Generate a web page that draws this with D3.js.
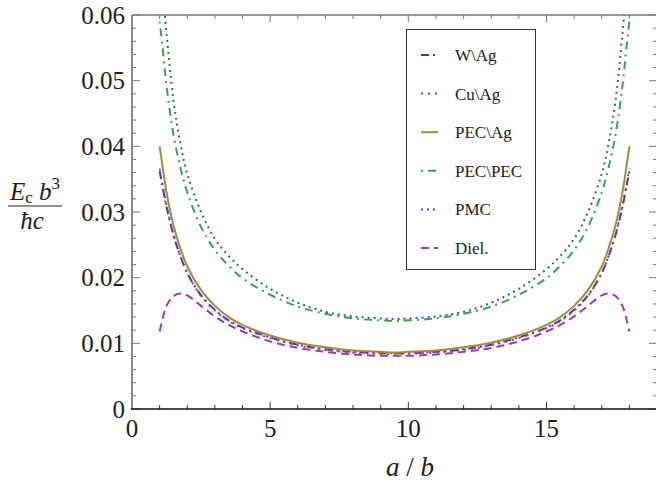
<!DOCTYPE html>
<html><head><meta charset="utf-8">
<script src="https://cdn.jsdelivr.net/npm/d3@7"></script>
<style>
html,body{margin:0;padding:0;background:#fff;}
svg{display:block;}
text{font-family:'Liberation Serif','Times New Roman',Times,'DejaVu Serif',serif;}
</style></head>
<body><svg id="c" width="656" height="485"></svg>
<script>
const FONT = "Liberation Serif, Times New Roman, Times, DejaVu Serif, serif";
const xs = [1, 1.1, 1.25, 1.5, 1.75, 2, 2.5, 3, 3.5, 4, 5, 6, 7, 8, 9, 9.5, 10, 11, 12, 13, 14, 15, 15.5, 16, 16.5, 17, 17.25, 17.5, 17.75, 17.9, 18];
const wAg   = [0.0362,0.0340,0.0308,0.0265,0.0233,0.0207,0.0173,0.0151,0.0135,0.0124,0.0109,0.0098,0.0091,0.0087,0.0085,0.0085,0.0085,0.0087,0.0091,0.0098,0.0109,0.0124,0.0135,0.0151,0.0173,0.0207,0.0233,0.0265,0.0308,0.0340,0.0362];
const cuAg  = [0.0366,0.0343,0.0310,0.0266,0.0233,0.0207,0.0172,0.0150,0.0134,0.0123,0.0108,0.0097,0.0090,0.0086,0.0084,0.0084,0.0084,0.0086,0.0090,0.0097,0.0108,0.0123,0.0134,0.0150,0.0172,0.0207,0.0233,0.0266,0.0310,0.0343,0.0366];
const pecAg = [0.0400,0.0371,0.0330,0.0280,0.0245,0.0217,0.0181,0.0157,0.0140,0.0128,0.0112,0.0101,0.0094,0.0089,0.0087,0.0086,0.0087,0.0089,0.0094,0.0101,0.0112,0.0128,0.0140,0.0157,0.0181,0.0217,0.0245,0.0280,0.0330,0.0371,0.0400];
const pecPec= [0.0590,0.0553,0.0492,0.0418,0.0368,0.0330,0.0277,0.0242,0.0218,0.0199,0.0174,0.0156,0.0145,0.0138,0.0135,0.0134,0.0135,0.0138,0.0145,0.0156,0.0174,0.0199,0.0218,0.0242,0.0277,0.0330,0.0368,0.0418,0.0492,0.0553,0.0590];
const pmc   = [0.0680,0.0640,0.0572,0.0470,0.0405,0.0358,0.0300,0.0259,0.0233,0.0213,0.0183,0.0162,0.0148,0.0141,0.0138,0.0137,0.0138,0.0141,0.0148,0.0162,0.0183,0.0213,0.0233,0.0259,0.0300,0.0358,0.0405,0.0470,0.0572,0.0640,0.0680];
const diel  = [0.0118,0.0136,0.0157,0.0172,0.0176,0.0173,0.0157,0.0141,0.0128,0.0118,0.0103,0.0093,0.0087,0.0083,0.0081,0.0081,0.0081,0.0083,0.0087,0.0093,0.0103,0.0118,0.0128,0.0141,0.0157,0.0173,0.0176,0.0172,0.0157,0.0136,0.0118];

const seriesNames = ["W\\Ag", "Cu\\Ag", "PEC\\Ag", "PEC\\PEC", "PMC", "Diel."];
const xTickVals = [0, 5, 10, 15];
const yTickVals = [0, 0.01, 0.02, 0.03, 0.04, 0.05, 0.06];
const yTickLabels = ["0", "0.01", "0.02", "0.03", "0.04", "0.05", "0.06"];

const seriesData = [wAg, cuAg, pecAg, pecPec, pmc, diel];
const styles = [
  {color:"#3c3cb0", dash:"8,4,2,4", w:2},
  {color:"#a0387a", dash:"2,5", w:2},
  {color:"#a08c3c", dash:null, w:2},
  {color:"#3ca055", dash:"2,5,8,5", w:2},
  {color:"#3c58b4", dash:"2,4", w:2},
  {color:"#a03ca0", dash:"8,5", w:2}
];

const L = 132, R = 657, T = 15, B = 409;
const svg = d3.select("#c").attr("font-family", FONT);
const x = d3.scaleLinear().domain([0, 19]).range([L, R]);
const y = d3.scaleLinear().domain([0, 0.06]).range([B, T]);

svg.append("defs").append("clipPath").attr("id","clip")
  .append("rect").attr("x", L).attr("y", T).attr("width", R-L).attr("height", B-T);

// curves
const line = d3.line().x(d => x(d[0])).y(d => y(d[1])).curve(d3.curveCatmullRom.alpha(0.5));
const g = svg.append("g").attr("clip-path","url(#clip)");
seriesData.forEach((vals, i) => {
  const pts = xs.map((xv, j) => [xv, vals[j]]);
  g.append("path").datum(pts).attr("d", line)
    .attr("fill","none").attr("stroke", styles[i].color)
    .attr("stroke-width", styles[i].w)
    .attr("stroke-dasharray", styles[i].dash);
});

// frame & ticks
const minorX = d3.range(0, 20, 1);
const minorY = d3.range(0, 0.0601, 0.002);
const fr = svg.append("g");
minorX.forEach(v => {
  const major = v % 5 === 0;
  fr.append("line").attr("x1", x(v)).attr("x2", x(v)).attr("y1", B).attr("y2", B - (major ? 7 : 4))
    .attr("stroke", "#333").attr("stroke-width", 1);
  fr.append("line").attr("x1", x(v)).attr("x2", x(v)).attr("y1", T).attr("y2", T + (major ? 7 : 4))
    .attr("stroke", "#777").attr("stroke-width", 1);
});
minorY.forEach(v => {
  const major = Math.abs(Math.round(v/0.01)*0.01 - v) < 1e-6;
  fr.append("line").attr("x1", L).attr("x2", L + (major ? 8 : 4)).attr("y1", y(v)).attr("y2", y(v))
    .attr("stroke", "#777").attr("stroke-width", 1);
  fr.append("line").attr("x1", R).attr("x2", R - (major ? 8 : 4)).attr("y1", y(v)).attr("y2", y(v))
    .attr("stroke", "#777").attr("stroke-width", 1);
});
fr.append("line").attr("x1", L).attr("x2", R).attr("y1", T).attr("y2", T).attr("stroke","#777").attr("stroke-width",1.5);
fr.append("line").attr("x1", R).attr("x2", R).attr("y1", T).attr("y2", B).attr("stroke","#777").attr("stroke-width",1.5);
fr.append("line").attr("x1", L).attr("x2", L).attr("y1", T).attr("y2", B).attr("stroke","#888").attr("stroke-width",2);
fr.append("line").attr("x1", L-1).attr("x2", R).attr("y1", B).attr("y2", B).attr("stroke","#111").attr("stroke-width",1.5);

// tick labels
yTickVals.forEach((v, i) => {
  svg.append("text").attr("x", 125).attr("y", y(v) + 8.5).attr("text-anchor","end")
    .attr("font-family", FONT).attr("font-size", 25).attr("fill","#222").text(yTickLabels[i]);
});
xTickVals.forEach(v => {
  svg.append("text").attr("x", x(v)).attr("y", 437).attr("text-anchor","middle")
    .attr("font-family", FONT).attr("font-size", 25).attr("fill","#222").text(String(v));
});

// x axis title
const xt = svg.append("text").attr("x", 410).attr("y", 476).attr("text-anchor","middle")
  .attr("font-family", FONT).attr("font-size", 27).attr("fill","#222");
xt.append("tspan").attr("font-style","italic").text("a");
xt.append("tspan").text(" / ");
xt.append("tspan").attr("font-style","italic").text("b");

// y axis title (fraction)
const num = svg.append("text").attr("x", 35).attr("y", 200).attr("text-anchor","middle")
  .attr("font-family", FONT).attr("font-size", 25).attr("fill","#222");
num.append("tspan").attr("font-style","italic").text("E");
num.append("tspan").attr("font-size", 17).attr("dy", 3).text("c");
num.append("tspan").attr("font-style","italic").attr("dy", -3).text(" b");
num.append("tspan").attr("font-size", 17).attr("dy", -11).text("3");
svg.append("line").attr("x1", 8).attr("x2", 62).attr("y1", 206).attr("y2", 206)
  .attr("stroke","#222").attr("stroke-width",1.2);
svg.append("text").attr("x", 32).attr("y", 229).attr("text-anchor","middle")
  .attr("font-family", FONT).attr("font-size", 25).attr("font-style","italic").attr("fill","#222").text("ħc");

// legend
const lg = svg.append("g");
lg.append("rect").attr("x", 406.5).attr("y", 29.5).attr("width", 129).attr("height", 240)
  .attr("fill","#fff").attr("stroke","#333").attr("stroke-width",1);
seriesNames.forEach((name, i) => {
  const cy = 55 + i * 38.6;
  lg.append("line").attr("x1", 421).attr("x2", 438).attr("y1", cy).attr("y2", cy)
    .attr("stroke", styles[i].color).attr("stroke-width", 2)
    .attr("stroke-dasharray", styles[i].dash);
  lg.append("text").attr("x", 455).attr("y", cy + 6).attr("font-size", 17)
    .attr("font-family", FONT).attr("fill","#222").text(name);
});
</script></body></html>
